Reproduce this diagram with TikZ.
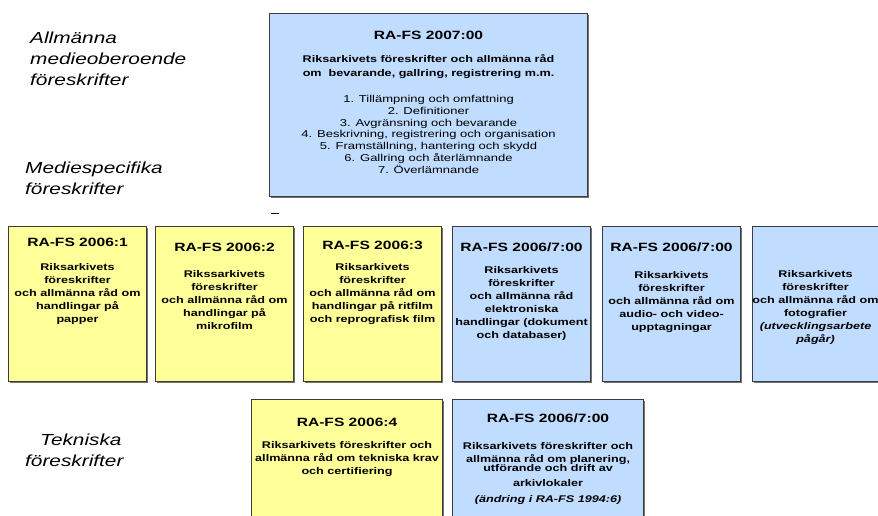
\documentclass[tikz,border=0pt]{standalone}
\usepackage{fontspec}
\setmainfont{Liberation Sans}
\newfontfamily\rutafont[FakeStretch=1.3]{Liberation Sans}
\usetikzlibrary{positioning, shadows}
\definecolor{RAGul}{RGB}{255,255,153}
\definecolor{RABla}{RGB}{192,220,255}
\definecolor{RAKant}{RGB}{60,60,60}
\newcommand{\titel}[1]{{\fontsize{12}{14}\selectfont #1}}

\begin{document}
\begin{tikzpicture}[x=1pt, y=-1pt]
        \tikzset{
          ruta/.style = {rectangle, draw=RAKant, line width=1.1pt, anchor=north west, inner sep=0pt,
            drop shadow={shadow xshift=1pt, shadow yshift=-1pt, fill=black!55, opacity=1}},
          rutatext/.style = {anchor=north, align=center, inner sep=0pt,
            font=\rutafont\bfseries\fontsize{9.7}{13}\selectfont},
          rubrik/.style = {anchor=north west, align=left, inner sep=0pt,
            font=\rutafont\itshape\fontsize{16}{21}\selectfont}
        }
        \clip (0,0) rectangle (878,516);

        % rubriker till vänster
        \node[rubrik] (allm) at (30,32) {Allmänna\\medieoberoende\\föreskrifter};
        \node[rubrik] (medie) at (25,162) {Mediespecifika\\föreskrifter};
        \node[rubrik] (tekn) at (25,434) {\hspace*{15pt}Tekniska\\föreskrifter};

        % RA-FS 2007:00
        \node[ruta, fill=RABla, minimum width=318pt, minimum height=183pt] (fs07) at (269,13) {};
        \node[rutatext, below=18pt of fs07.north] (fs07titel) {\titel{RA-FS 2007:00}};
        \node[rutatext, fontsize/.style={}, font=\rutafont\bfseries\fontsize{9.7}{14}\selectfont,
          below=41pt of fs07.north] (fs07text)
          {Riksarkivets föreskrifter och allmänna råd\\om~ bevarande, gallring, registrering m.m.};
        \node[rutatext, font=\rutafont\fontsize{10}{11.8}\selectfont, below=82pt of fs07.north] (fs07lista)
          {1. Tillämpning och omfattning\\2. Definitioner\\3. Avgränsning och bevarande\\
           4. Beskrivning, registrering och organisation\\5. Framställning, hantering och skydd\\
           6. Gallring och återlämnande\\7. Överlämnande};

        \draw[line width=0.8pt] (271,213) -- (279,213);

        % mediespecifika
        \foreach \x/\fyll/\namn in {8/RAGul/fs1, 155/RAGul/fs2, 303/RAGul/fs3,
                                    452/RABla/fs4, 602/RABla/fs5, 752/RABla/fs6}
          \node[ruta, fill=\fyll, minimum width=138pt, minimum height=155pt] (\namn) at (\x,226) {};

        \node[rutatext, below=12pt of fs1.north] (fs1text)
          {\titel{RA-FS 2006:1}\\[11pt]Riksarkivets\\föreskrifter\\och allmänna råd om\\handlingar på\\papper};
        \node[rutatext, below=17pt of fs2.north] (fs2text)
          {\titel{RA-FS 2006:2}\\[13pt]Rikssarkivets\\föreskrifter\\och allmänna råd om\\handlingar på\\mikrofilm};
        \node[rutatext, below=15pt of fs3.north] (fs3text)
          {\titel{RA-FS 2006:3}\\[8pt]Riksarkivets\\föreskrifter\\och allmänna råd om\\handlingar på ritfilm\\och reprografisk film};
        \node[rutatext, below=17pt of fs4.north] (fs4text)
          {\titel{RA-FS 2006/7:00}\\[9pt]Riksarkivets\\föreskrifter\\och allmänna råd\\elektroniska\\handlingar (dokument\\och databaser)};
        \node[rutatext, below=17pt of fs5.north] (fs5text)
          {\titel{RA-FS 2006/7:00}\\[14pt]Riksarkivets\\föreskrifter\\och allmänna råd om\\audio- och video-\\upptagningar};
        \node[rutatext, below=44pt of fs6.north, xshift=-6pt] (fs6text)
          {Riksarkivets\\föreskrifter\\och allmänna råd om\\fotografier\\\textit{(utvecklingsarbete}\\\textit{pågår)}};

        % tekniska
        \node[ruta, fill=RAGul, minimum width=191pt, minimum height=130pt] (fs4t) at (251,399) {};
        \node[ruta, fill=RABla, minimum width=191pt, minimum height=130pt] (fs7t) at (452,399) {};

        \node[rutatext, below=19pt of fs4t.north] (fs4ttext)
          {\titel{RA-FS 2006:4}\\[9pt]Riksarkivets föreskrifter och\\allmänna råd om tekniska krav\\och certifiering};
        \node[rutatext, below=15pt of fs7t.north] (fs7ttext)
          {\titel{RA-FS 2006/7:00}\\[14pt]Riksarkivets föreskrifter och\\allmänna råd om planering,\\[-4pt]utförande och drift av\\[2pt]arkivlokaler\\[3pt]\textit{(ändring i RA-FS 1994:6)}};
\end{tikzpicture}
\end{document}
